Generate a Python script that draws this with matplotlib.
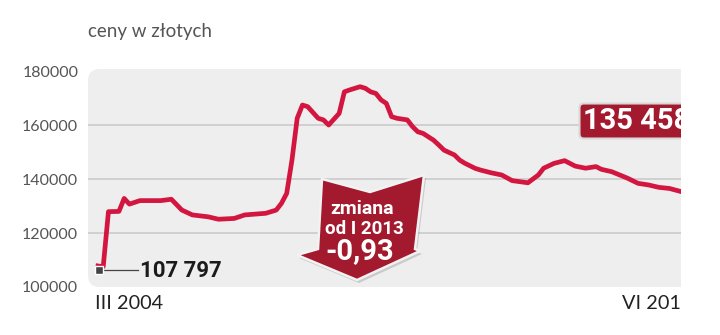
import matplotlib.pyplot as plt
from matplotlib.patches import FancyBboxPatch, Polygon, Rectangle
from matplotlib.transforms import blended_transform_factory

# months counted from III 2004, average flat price in zl
months = [0, 1, 2, 4, 5, 6, 8, 12, 14, 16, 18, 21, 23, 26, 28, 32, 34, 35,
          36, 37, 38, 39, 40, 42, 43, 44, 46, 47, 48, 50, 51, 52, 53, 54,
          55, 56, 57, 59, 60, 61, 62, 64, 65, 66, 68, 69, 70, 72, 73, 75,
          77, 79, 82, 84, 85, 87, 89, 91, 93, 95, 96, 98, 101, 103, 105,
          107, 109, 111]
prices = [107797, 107500, 127900, 128000, 132800, 130700, 132000, 132000,
          132500, 128500, 126700, 126000, 125100, 125400, 126700, 127300,
          128500, 131000, 134700, 147000, 162500, 167400, 166800, 162500,
          161900, 160000, 164300, 172300, 173000, 174200, 173600, 172300,
          171700, 169300, 168000, 163100, 162500, 161900, 159400, 157500,
          156900, 154400, 152600, 150700, 148900, 147000, 145800, 143900,
          143300, 142300, 141500, 139400, 138600, 141500, 144000, 145800,
          146800, 144800, 144000, 144600, 143600, 142700, 140300, 138400,
          137800, 136900, 136500, 135458]

y_ticks = [100000, 120000, 140000, 160000, 180000]
grid_levels = [120000, 140000, 160000]
x_labels = ["III 2004", "VI 2013"]

title = "ceny w złotych"
start_label = "107 797"
end_label = "135 458"
change_lines = ["zmiana", "od I 2013", "-0,93"]

line_red = "#d3163f"
box_red = "#a3192e"
narrow = ["Liberation Sans Narrow", "DejaVu Sans Condensed", "Roboto"]

fig = plt.figure(figsize=(7.2, 3.35), dpi=100)
ax = fig.add_axes([88 / 720, 48 / 335, 593 / 720, 218 / 335])


def axpos(px, py):
    # pixel position in the picture -> axes fraction
    return (px - 88) / 593, (287 - py) / 218


# grey panel with rounded left corners, cut straight on the right
ax.patch.set_visible(False)
panel = FancyBboxPatch((0, 0), 1.1, 1, boxstyle="round,pad=0,rounding_size=0.02",
                       transform=ax.transAxes, fc="#eeeeee", ec="none",
                       mutation_aspect=593 / 218, zorder=0)
ax.add_patch(panel)
panel.set_clip_path(ax.patch)

for lvl in grid_levels:
    ax.axhline(lvl, color="#c8c8c8", lw=1.1, zorder=1)

ax.plot(months, prices, color=line_red, lw=3.4, solid_joinstyle="round", zorder=3)

ax.set_xlim(-1.9, 111.2)
ax.set_ylim(100000, 180750)
for s in ax.spines.values():
    s.set_visible(False)
ax.set_xticks([])
ax.set_yticks(y_ticks)
ax.set_yticklabels([str(v) for v in y_ticks], fontfamily="Lato", color="#555555")
ax.tick_params(axis="y", length=0, pad=7, labelsize=11.5)
for lab in ax.get_yticklabels():
    lab.set_verticalalignment("center_baseline")

# x labels (the right one is cut at the picture edge, as in the source)
tr = blended_transform_factory(ax.transData, ax.transAxes)
ax.text(-0.6, -0.075, x_labels[0], transform=tr, ha="left", va="center",
        fontsize=14.3, family="Lato", color="#222222", clip_on=False)
t = ax.text(99.9, -0.075, x_labels[1], transform=tr, ha="left", va="center",
            fontsize=14.3, family="Lato", color="#222222", clip_on=True)
t.set_clip_path(Rectangle((0, 0), 680 / 720, 1, transform=fig.transFigure))

fig.text(88 / 720, 1 - 32 / 335, title, fontsize=13.5, family="Lato",
         color="#555555", va="center", ha="left")

# start value marker
ax.plot(*zip(axpos(99, 270), axpos(138, 270)), transform=ax.transAxes,
        color="#444444", lw=0.9, zorder=4)
ax.plot(*axpos(99, 270), transform=ax.transAxes, marker="s", ms=5.5,
        mfc="#444444", mec="white", mew=1, zorder=5)
ax.text(*axpos(140, 271), start_label, transform=ax.transAxes, ha="left",
        va="center", fontsize=16, fontweight="bold", family=narrow,
        color="#1b1b1b", zorder=5)

# end value box (cut by the right edge like the original)
ax.text(*axpos(583, 121), end_label, transform=ax.transAxes, ha="left",
        va="center", fontsize=21, fontweight="bold", family=narrow,
        color="white", zorder=6, clip_on=True,
        bbox=dict(boxstyle="round,pad=0.12,rounding_size=0.15", fc=box_red,
                  ec="#d8d8d8", lw=1.5))

# arrow with the change
arrow_px = [(322, 179), (370, 192), (424, 175), (415, 249), (420, 251),
            (357, 280), (297, 255), (318, 249)]
shadow = Polygon([axpos(x + 2, y + 3) for x, y in arrow_px], closed=True,
                 transform=ax.transAxes, fc="#000000", alpha=0.15, ec="none", zorder=6)
ax.add_patch(shadow)
arrow = Polygon([axpos(x, y) for x, y in arrow_px], closed=True,
                transform=ax.transAxes, fc=box_red, ec="#f2f2f2", lw=1.8,
                joinstyle="miter", zorder=7)
ax.add_patch(arrow)
ax.text(*axpos(362, 208.5), change_lines[0], transform=ax.transAxes, ha="center",
        va="center", fontsize=14, fontweight="bold", family=narrow,
        color="white", zorder=8)
ax.text(*axpos(364, 229), change_lines[1], transform=ax.transAxes, ha="center",
        va="center", fontsize=13.5, fontweight="bold", family=narrow,
        color="white", zorder=8)
ax.text(*axpos(360, 251), change_lines[2], transform=ax.transAxes, ha="center",
        va="center", fontsize=21, fontweight="bold", family=narrow,
        color="white", zorder=8)

fig.savefig("out.png", dpi=100)
